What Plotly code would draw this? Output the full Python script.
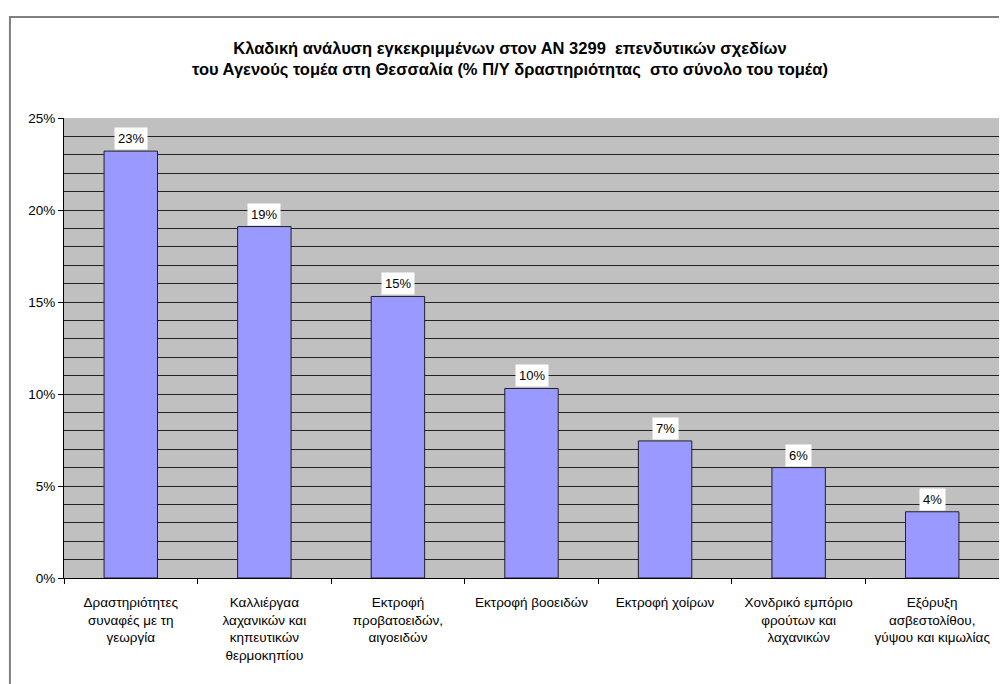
import plotly.graph_objects as go

categories = [
    "Δραστηριότητες<br>συναφές με τη<br>γεωργία",
    "Καλλιέργαα<br>λαχανικών και<br>κηπευτικών<br>θερμοκηπίου",
    "Εκτροφή<br>προβατοειδών,<br>αιγοειδών",
    "Εκτροφή βοοειδών",
    "Εκτροφή χοίρων",
    "Χονδρικό εμπόριο<br>φρούτων και<br>λαχανικών",
    "Εξόρυξη<br>ασβεστολίθου,<br>γύψου και κιμωλίας",
]
values = [0.232, 0.191, 0.153, 0.103, 0.0745, 0.060, 0.036]
y_ticks = [0, 0.05, 0.10, 0.15, 0.20, 0.25]
y_tick_labels = ["0%", "5%", "10%", "15%", "20%", "25%"]

title = ("<b>Κλαδική ανάλυση εγκεκριμμένων στον ΑΝ 3299  επενδυτικών σχεδίων<br>"
         "του Αγενούς τομέα στη Θεσσαλία (% Π/Υ δραστηριότητας  στο σύνολο του τομέα)</b>")

FONT = "Liberation Sans, Arial"

fig = go.Figure()
fig.add_trace(go.Bar(
    x=categories, y=values,
    marker=dict(color="#9999FF", line=dict(color="#222222", width=1)),
    hoverinfo="skip",
))

for c, v in zip(categories, values):
    fig.add_annotation(
        x=c, y=v, text=f"{v*100:.0f}%", showarrow=False,
        yanchor="bottom", yshift=1, bgcolor="white",
        font=dict(family=FONT, size=13, color="black"),
        borderpad=3,
    )

fig.update_layout(
    width=1007, height=684,
    paper_bgcolor="white", plot_bgcolor="#C0C0C0",
    margin=dict(l=56, r=16, t=110, b=114),
    bargap=0.6,
    showlegend=False,
    title=dict(text=title, x=(502 - 56) / 935, xref="paper",
               xanchor="center", y=0.933, yanchor="top",
               font=dict(family=FONT, size=16.5, color="black")),
    font=dict(family=FONT, size=13, color="black"),
)
fig.update_xaxes(
    type="category", tickson="boundaries", ticks="outside", ticklen=5,
    tickcolor="black", showline=True, linecolor="black", linewidth=1,
    showgrid=False, ticklabelstandoff=12,
    tickfont=dict(family=FONT, size=13.5),
)
fig.update_yaxes(
    range=[0, 0.25], tickvals=y_ticks, ticktext=y_tick_labels,
    ticks="outside", ticklen=5, tickcolor="black",
    showline=True, linecolor="black", linewidth=1,
    showgrid=True, gridcolor="#222222", gridwidth=1,
    minor=dict(dtick=0.01, showgrid=True, gridcolor="#222222", gridwidth=1),
    tickfont=dict(family=FONT, size=13.5),
    zeroline=False,
)
fig.add_shape(type="rect", xref="paper", yref="paper",
              x0=-0.0578, x1=1.03, y0=-0.3, y1=1.2196,
              line=dict(color="#808080", width=2), layer="above")

fig.write_html("out.html")
